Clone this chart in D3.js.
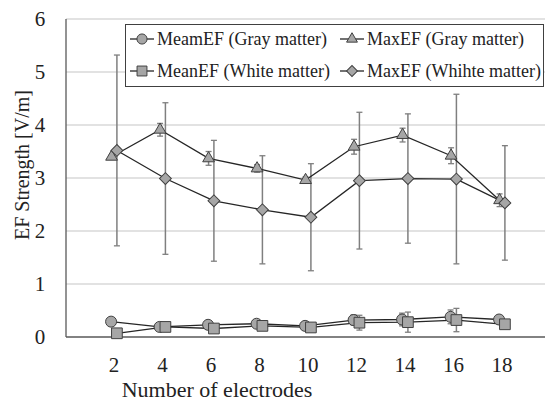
<!DOCTYPE html>
<html>
<head>
<meta charset="utf-8">
<script src="https://cdn.jsdelivr.net/npm/d3@7"></script>
<style>
  body { margin: 0; background: #fff; }
  text { font-family: "Liberation Serif", "Times New Roman", serif; fill: #222; }
</style>
</head>
<body>
<div id="chart"></div>
<script>
// data
var electrodes = [2, 4, 6, 8, 10, 12, 14, 16, 18];

var meanGray  = [0.29, 0.19, 0.23, 0.25, 0.21, 0.32, 0.33, 0.38, 0.33];
var meanGrayErr = [0.02, 0.06, 0.05, 0.04, 0.04, 0.10, 0.12, 0.13, 0.06];
var meanWhite = [0.07, 0.19, 0.16, 0.21, 0.18, 0.27, 0.28, 0.32, 0.24];
var meanWhiteErr = [0.02, 0.05, 0.04, 0.04, 0.04, 0.14, 0.19, 0.22, 0.07];
var maxGray   = [3.40, 3.91, 3.37, 3.18, 2.96, 3.59, 3.81, 3.42, 2.58];
var maxGrayErr = [0.03, 0.12, 0.13, 0.07, 0.06, 0.14, 0.13, 0.15, 0.12];
var maxWhite  = [3.52, 2.99, 2.57, 2.40, 2.26, 2.95, 2.99, 2.98, 2.53];
var maxWhiteErr = [1.80, 1.43, 1.14, 1.02, 1.01, 1.29, 1.22, 1.60, 1.08];

var yTicks = [0, 1, 2, 3, 4, 5, 6];

var series = [
  {name: "MeamEF (Gray matter)", values: meanGray, err: meanGrayErr, symbol: d3.symbolCircle, size: 95, rot: 0, dx: -0.12},
  {name: "MeanEF (White matter)", values: meanWhite, err: meanWhiteErr, symbol: d3.symbolSquare, size: 115, rot: 0, dx: 0.12},
  {name: "MaxEF (Gray matter)", values: maxGray, err: maxGrayErr, symbol: d3.symbolTriangle, size: 60, rot: 0, dx: -0.1},
  {name: "MaxEF (Whihte matter)", values: maxWhite, err: maxWhiteErr, symbol: d3.symbolSquare, size: 70, rot: 45, dx: 0.12}
];

var width = 545, height = 401;
var plotLeft = 66, plotTop = 19, plotBottom = 337;

var svg = d3.select("#chart").append("svg")
    .attr("width", width)
    .attr("height", height);

var x = d3.scaleLinear().domain([0, 20]).range([65.5, 550.5]);
var y = d3.scaleLinear().domain([0, 6]).range([plotBottom, plotTop]);

// gridlines
svg.append("g").selectAll("line")
  .data(yTicks.slice(1))
  .enter().append("line")
    .attr("x1", plotLeft).attr("x2", width)
    .attr("y1", function(d) { return y(d); })
    .attr("y2", function(d) { return y(d); })
    .style("stroke", "#d9d9d9")
    .style("stroke-width", "1.3px");

// axes
svg.append("line")
  .attr("x1", plotLeft).attr("x2", plotLeft)
  .attr("y1", y(6)).attr("y2", y(0))
  .style("stroke", "#595959").style("stroke-width", "1.3px");
svg.append("line")
  .attr("x1", plotLeft).attr("x2", width)
  .attr("y1", y(0)).attr("y2", y(0))
  .style("stroke", "#595959").style("stroke-width", "1.3px");

// tick labels
svg.append("g").selectAll("text")
  .data(yTicks)
  .enter().append("text")
    .attr("x", 40)
    .attr("y", function(d) { return y(d); })
    .attr("dy", "0.35em")
    .attr("text-anchor", "middle")
    .style("font-size", "21px")
    .text(function(d) { return d; });

svg.append("g").selectAll("text")
  .data(electrodes)
  .enter().append("text")
    .attr("x", function(d) { return x(d); })
    .attr("y", 372)
    .attr("text-anchor", "middle")
    .style("font-size", "21px")
    .text(function(d) { return d; });

// axis titles
svg.append("text")
  .attr("x", 217).attr("y", 397)
  .attr("text-anchor", "middle")
  .style("font-size", "22px")
  .text("Number of electrodes");

svg.append("text")
  .attr("transform", "translate(29,165) rotate(-90)")
  .attr("text-anchor", "middle")
  .style("font-size", "20px")
  .text("EF Strength [V/m]");

// error bars first, then lines and markers
series.forEach(function(s) {
  var pts = electrodes.map(function(e, i) {
    return {x: e + s.dx, v: s.values[i], e: s.err[i]};
  });
  var eb = svg.append("g");
  eb.selectAll("line.v").data(pts).enter().append("line")
    .attr("x1", function(d) { return x(d.x); })
    .attr("x2", function(d) { return x(d.x); })
    .attr("y1", function(d) { return y(d.v - d.e); })
    .attr("y2", function(d) { return y(d.v + d.e); })
    .style("stroke", "#7f7f7f").style("stroke-width", "1.5px");
  [-1, 1].forEach(function(sign) {
    eb.selectAll("line.c" + sign).data(pts).enter().append("line")
      .attr("x1", function(d) { return x(d.x) - 3; })
      .attr("x2", function(d) { return x(d.x) + 3; })
      .attr("y1", function(d) { return y(d.v + sign * d.e); })
      .attr("y2", function(d) { return y(d.v + sign * d.e); })
      .style("stroke", "#7f7f7f").style("stroke-width", "1.3px");
  });
});

series.forEach(function(s) {
  var pts = electrodes.map(function(e, i) { return {x: e + s.dx, v: s.values[i]}; });
  var line = d3.line()
    .x(function(d) { return x(d.x); })
    .y(function(d) { return y(d.v); });
  svg.append("path")
    .datum(pts)
    .attr("d", line)
    .style("fill", "none")
    .style("stroke", "#262626")
    .style("stroke-width", "1.3px");
});

series.forEach(function(s) {
  var pts = electrodes.map(function(e, i) { return {x: e + s.dx, v: s.values[i]}; });
  svg.append("g").selectAll("path")
    .data(pts)
    .enter().append("path")
      .attr("d", d3.symbol().type(s.symbol).size(s.size))
      .attr("transform", function(d) {
        return "translate(" + x(d.x) + "," + y(d.v) + ") rotate(" + s.rot + ")";
      })
      .style("fill", "#a6a6a6")
      .style("stroke", "#404040")
      .style("stroke-width", "1px");
});

// legend
var legend = svg.append("g");
legend.append("rect")
  .attr("x", 125.5).attr("y", 24.5)
  .attr("width", 418).attr("height", 62)
  .style("fill", "#fff")
  .style("stroke", "#404040")
  .style("stroke-width", "1px");

var legendPos = [
  {s: series[0], lx: 130, ly: 39},
  {s: series[2], lx: 340, ly: 39},
  {s: series[1], lx: 130, ly: 71},
  {s: series[3], lx: 340, ly: 71}
];
legendPos.forEach(function(p) {
  var g = legend.append("g").attr("transform", "translate(" + p.lx + "," + p.ly + ")");
  g.append("line")
    .attr("x1", 0).attr("x2", 24)
    .style("stroke", "#262626").style("stroke-width", "1.3px");
  g.append("path")
    .attr("d", d3.symbol().type(p.s.symbol).size(p.s.size * 0.85))
    .attr("transform", "translate(12,0) rotate(" + p.s.rot + ")")
    .style("fill", "#a6a6a6")
    .style("stroke", "#404040");
  g.append("text")
    .attr("x", 27).attr("dy", "0.35em")
    .style("font-size", "18px")
    .text(p.s.name);
});
</script>
</body>
</html>
